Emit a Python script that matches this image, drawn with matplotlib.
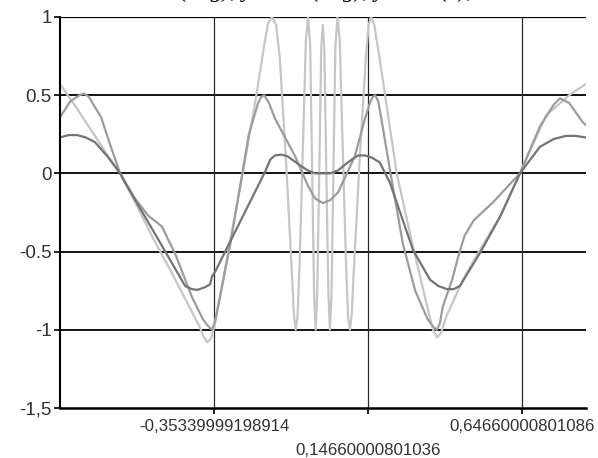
import matplotlib.pyplot as plt

# light curve (fast oscillation near the centre)
light_x = [-0.853, -0.80, -0.75, -0.70, -0.658, -0.60, -0.55, -0.50, -0.45, -0.40, -0.388,
           -0.376, -0.364, -0.355, -0.33, -0.30, -0.26, -0.22, -0.19, -0.178, -0.165, -0.152,
           -0.14, -0.12, -0.10, -0.094, -0.088, -0.082, -0.075, -0.062, -0.055, -0.048, -0.041,
           -0.036, -0.028, -0.023, -0.018, -0.012, -0.005, 0.0, 0.005, 0.012, 0.018, 0.023,
           0.028, 0.036, 0.041, 0.048, 0.055, 0.062, 0.075, 0.082, 0.088, 0.094, 0.10, 0.12,
           0.14, 0.149, 0.157, 0.167, 0.185, 0.24, 0.293, 0.345, 0.358, 0.371, 0.384, 0.40,
           0.455, 0.51, 0.58, 0.64, 0.725, 0.80, 0.853]
light_y = [0.57, 0.42, 0.27, 0.12, 0.0, -0.22, -0.42, -0.60, -0.79, -0.98, -1.04,
           -1.08, -1.06, -1.0, -0.75, -0.42, 0.0, 0.45, 0.82, 0.96, 1.0, 0.95,
           0.75, 0.1, -0.65, -0.9, -1.0, -0.92, -0.55, 0.35, 0.85, 1.0, 0.82,
           0.2, -0.8, -1.0, -0.75, -0.05, 0.8, 0.95, 0.8, -0.05, -0.75, -1.0,
           -0.8, 0.2, 0.82, 1.0, 0.85, 0.35, -0.55, -0.92, -1.0, -0.9, -0.65, 0.1,
           0.75, 0.95, 1.0, 0.95, 0.73, 0.0, -0.47, -0.90, -1.0, -1.05, -1.02, -0.92,
           -0.68, -0.49, -0.26, 0.0, 0.37, 0.50, 0.57]

# medium curve
mid_x = [-0.853, -0.82, -0.79, -0.775, -0.76, -0.72, -0.69, -0.658, -0.61, -0.567, -0.522,
         -0.503, -0.48, -0.425, -0.39, -0.375, -0.36, -0.35, -0.34, -0.30, -0.27, -0.24,
         -0.21, -0.20, -0.19, -0.175, -0.155, -0.09, -0.048, -0.025, 0.0, 0.025, 0.05, 0.104,
         0.137, 0.153, 0.162, 0.17, 0.18, 0.19, 0.22, 0.26, 0.30, 0.34, 0.358, 0.37, 0.38,
         0.39, 0.42, 0.44, 0.46, 0.49, 0.55, 0.64, 0.705, 0.75, 0.77, 0.80, 0.843, 0.853]
mid_y = [0.36, 0.46, 0.50, 0.51, 0.49, 0.36, 0.18, 0.0, -0.16, -0.27, -0.34,
         -0.42, -0.51, -0.79, -0.93, -0.97, -1.0, -0.95, -0.85, -0.45, -0.10, 0.25,
         0.45, 0.49, 0.50, 0.45, 0.35, 0.11, -0.08, -0.16, -0.19, -0.17, -0.12, 0.11,
         0.35, 0.45, 0.49, 0.50, 0.46, 0.35, 0.0, -0.45, -0.75, -0.93, -0.98, -1.0, -0.96,
         -0.85, -0.68, -0.53, -0.40, -0.30, -0.19, 0.0, 0.30, 0.44, 0.48, 0.45, 0.33, 0.31]

# dark curve
dark_x = [-0.853, -0.825, -0.798, -0.77, -0.74, -0.70, -0.658, -0.642, -0.535, -0.447,
          -0.425, -0.408, -0.385, -0.366, -0.36, -0.35, -0.19, -0.17, -0.155, -0.135,
          -0.115, -0.08, -0.05, -0.025, 0.0, 0.025, 0.05, 0.075, 0.095, 0.115, 0.137, 0.16,
          0.185, 0.218, 0.293, 0.348, 0.375, 0.403, 0.425, 0.445, 0.51, 0.575, 0.64, 0.705,
          0.75, 0.79, 0.82, 0.853]
dark_y = [0.23, 0.245, 0.245, 0.23, 0.20, 0.11, 0.0, -0.06, -0.42, -0.72,
          -0.74, -0.745, -0.73, -0.71, -0.66, -0.63, 0.0, 0.09, 0.115, 0.12,
          0.11, 0.06, 0.02, 0.0, 0.0, 0.0, 0.02, 0.06, 0.09, 0.115, 0.115, 0.10,
          0.07, -0.06, -0.49, -0.68, -0.72, -0.74, -0.74, -0.72, -0.51, -0.28, 0.0, 0.17,
          0.22, 0.24, 0.24, 0.23]

xticks = [-0.35339999198914, 0.14660000801036, 0.64660000801086]
xtick_labels = ['-0,35339999198914', '0,14660000801036', '0,64660000801086']
yticks = [-1.5, -1, -0.5, 0, 0.5, 1]
ytick_labels = ['-1,5', '-1', '-0.5', '0', '0.5', '1']

plt.rcParams['font.family'] = ['Liberation Sans', 'DejaVu Sans']

fig = plt.figure(figsize=(5.98, 4.58), dpi=100)
ax = fig.add_axes([0.1003, 0.1092, 0.879, 0.8537])

ax.plot(light_x, light_y, color='#c6c6c6', lw=1.6)
ax.plot(mid_x, mid_y, color='#9c9c9c', lw=1.6)
ax.plot(dark_x, dark_y, color='#747474', lw=1.6)

ax.set_xlim(-0.8534, 0.8534)
ax.set_ylim(-1.5, 1)

# grid: black horizontal, dark grey vertical
for y in yticks[1:]:
    ax.axhline(y, color='black', lw=1.6 if y == 1 else 1.3, zorder=0.5)
for x in xticks:
    ax.axvline(x, color='#2a2a2a', lw=0.9, zorder=0.5)

ax.set_xticks(xticks)
ax.set_xticklabels(xtick_labels, fontsize=12.2, color='#333333')
ax.set_yticks(yticks)
ax.set_yticklabels(ytick_labels, fontsize=13.5, color='#333333')
ax.tick_params(axis='both', length=4, width=1.2, color='black')
ax.tick_params(axis='x', pad=4)
ax.tick_params(axis='y', pad=2)
ax.xaxis.get_major_ticks()[1].set_pad(21)

ax.spines['right'].set_visible(False)
ax.spines['top'].set_visible(False)
ax.spines['left'].set_linewidth(1.5)
ax.spines['bottom'].set_linewidth(1.8)

# clipped title line, only the descenders show at the top edge
fig.text(0.255, 1.006, 'sin(x·lg), y = cos(x·lg), y = sin(x),', fontsize=17,
         family='Liberation Serif', style='italic', va='baseline', ha='left')

fig.savefig('out.png', dpi=100)
